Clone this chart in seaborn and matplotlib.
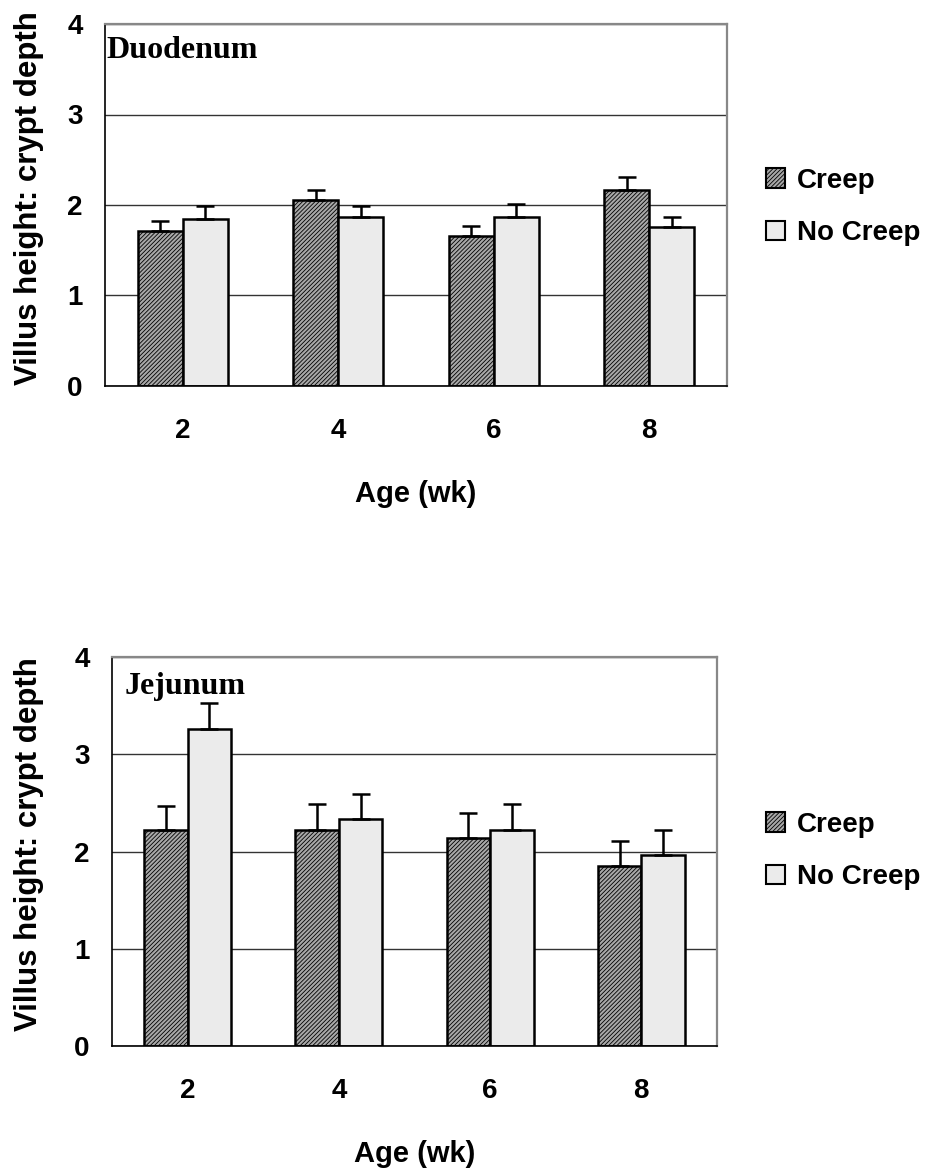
import numpy as np
import pandas as pd
import matplotlib
matplotlib.use("Agg")
import matplotlib.pyplot as plt
import seaborn as sns
from matplotlib.patches import Patch
from matplotlib.ticker import FixedLocator

sns.set_style("white")
plt.rcParams['font.family'] = ['Liberation Sans', 'DejaVu Sans']
plt.rcParams['font.weight'] = 'bold'
plt.rcParams['hatch.linewidth'] = 0.6
plt.rcParams['text.color'] = 'black'
plt.rcParams['axes.labelcolor'] = 'black'
plt.rcParams['xtick.color'] = 'black'
plt.rcParams['ytick.color'] = 'black'

ages = ['2', '4', '6', '8']
groups = ['Creep', 'No Creep']

# Duodenum
duo_creep = [1.71, 2.06, 1.66, 2.17]
duo_creep_se = [0.11, 0.11, 0.11, 0.14]
duo_nocreep = [1.85, 1.87, 1.87, 1.76]
duo_nocreep_se = [0.14, 0.12, 0.14, 0.11]

# Jejunum
jej_creep = [2.22, 2.22, 2.14, 1.85]
jej_creep_se = [0.25, 0.27, 0.26, 0.26]
jej_nocreep = [3.26, 2.33, 2.22, 1.96]
jej_nocreep_se = [0.27, 0.26, 0.27, 0.26]

styles = {
    'Creep': dict(facecolor='#a8a8a8', hatch='////////'),
    'No Creep': dict(facecolor='#ebebeb', hatch=''),
}


def make_df(creep, nocreep):
    return pd.DataFrame({
        'Age': ages * 2,
        'Group': ['Creep'] * 4 + ['No Creep'] * 4,
        'Value': list(creep) + list(nocreep),
    })


def draw_panel(ax, creep, creep_se, nocreep, nocreep_se, title, title_x, ylab_x, legend_y):
    df = make_df(creep, nocreep)
    sns.barplot(data=df, x='Age', y='Value', hue='Group', order=ages, hue_order=groups,
                width=0.576, errorbar=None, legend=False, ax=ax,
                edgecolor='black', linewidth=1.8)
    for cont, g, se in zip(ax.containers, groups, [creep_se, nocreep_se]):
        xs, hs = [], []
        for bar in cont:
            bar.set_facecolor(styles[g]['facecolor'])
            bar.set_hatch(styles[g]['hatch'])
            bar.set_edgecolor('black')
            bar.set_linewidth(1.8)
            xs.append(bar.get_x() + bar.get_width() / 2)
            hs.append(bar.get_height())
        ax.errorbar(xs, hs, yerr=[np.zeros(len(se)), se], fmt='none', ecolor='black',
                    elinewidth=1.8, capsize=6.5, capthick=1.8, zorder=3)

    ax.set_xlim(-0.5, 3.5)
    ax.set_ylim(0, 4)
    ax.set_yticks([0, 1, 2, 3, 4])
    ax.yaxis.grid(True, color='#333333', linewidth=1.0)
    ax.set_axisbelow(True)
    ax.xaxis.set_minor_locator(FixedLocator([-0.5, 0.5, 1.5, 2.5, 3.5]))
    ax.tick_params(axis='x', which='major', length=0, pad=23, labelsize=20)
    ax.tick_params(axis='x', which='minor', length=7, width=1, color='black', direction='out')
    ax.tick_params(axis='y', length=7, width=1, color='black', direction='out', pad=9, labelsize=20)
    for s in ['left', 'bottom']:
        ax.spines[s].set_color('black')
        ax.spines[s].set_linewidth(1.2)
    for s in ['top', 'right']:
        ax.spines[s].set_color('#888888')
        ax.spines[s].set_linewidth(1.6)

    ax.set_xlabel('Age (wk)', fontsize=21, fontweight='bold', labelpad=26)
    ax.set_ylabel('Villus height: crypt depth', fontsize=22.5, fontweight='bold')
    ax.yaxis.set_label_coords(ylab_x, 0.52)

    ax.text(title_x, 0.905, title, transform=ax.transAxes, fontsize=23, fontweight='bold',
            family='Liberation Serif', va='baseline', ha='left')

    handles = [Patch(facecolor=styles[g]['facecolor'], hatch=styles[g]['hatch'],
                     edgecolor='black', linewidth=1.5) for g in groups]
    ax.legend(handles, groups, loc='center left', bbox_to_anchor=(766 / 943, legend_y),
              bbox_transform=fig.transFigure, frameon=False,
              prop={'size': 20, 'weight': 'bold'},
              handlelength=0.7, handleheight=0.7, handletextpad=0.4,
              labelspacing=0.95, borderpad=0, borderaxespad=0)


fig = plt.figure(figsize=(9.43, 11.74), dpi=100)
ax1 = fig.add_axes([105 / 943, 1 - 386 / 1174, 622 / 943, 362 / 1174])
ax2 = fig.add_axes([112 / 943, 1 - 1046 / 1174, 605 / 943, 389 / 1174])

draw_panel(ax1, duo_creep, duo_creep_se, duo_nocreep, duo_nocreep_se,
           'Duodenum', 0.003, -0.098, 1 - 207 / 1174)
draw_panel(ax2, jej_creep, jej_creep_se, jej_nocreep, jej_nocreep_se,
           'Jejunum', 0.021, -0.113, 1 - 851 / 1174)

fig.savefig('out.png', dpi=100)
